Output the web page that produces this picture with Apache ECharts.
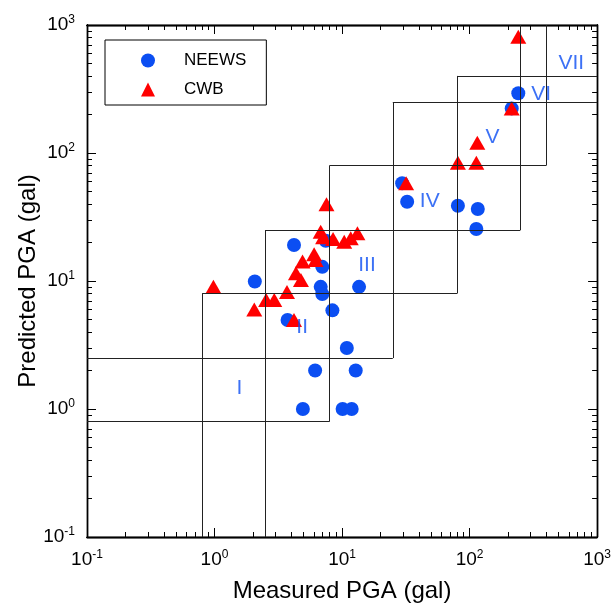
<!DOCTYPE html>
<html>
<head>
<meta charset="utf-8">
<script src="https://cdn.jsdelivr.net/npm/echarts@6/dist/echarts.min.js"></script>
<style>
html,body{margin:0;padding:0;background:#fff;}
#chart{width:614px;height:609px;}
</style>
</head>
<body>
<div id="chart"></div>
<script>
// ---- data ----
const neewsMeasured  = [2.07, 4.2, 7.45, 7.0, 6.8, 7.0, 13.6, 8.4, 3.74, 10.9, 6.15, 12.8, 4.93, 10.1, 11.9, 29.6, 32.4, 81, 116, 113, 214, 241];
const neewsPredicted = [9.9, 19.1, 20.6, 12.9, 9.0, 7.9, 9.0, 5.9, 4.96, 3.0, 2.0, 2.0, 1.0, 1.0, 1.0, 58, 41.6, 38.7, 36.5, 25.5, 223, 293];
const cwbMeasured  = [0.98, 2.05, 2.54, 2.94, 3.7, 4.2, 4.35, 4.76, 4.9, 6.04, 6.2, 6.8, 7.1, 7.55, 8.5, 10.4, 11.7, 13.2, 31.8, 81, 113, 115, 214, 241];
const cwbPredicted = [9.0, 6.0, 7.1, 7.1, 8.2, 4.96, 11.5, 10.2, 14.2, 16.2, 14.6, 24.3, 22, 39.7, 21.3, 20.3, 21.6, 23.6, 58, 84, 84, 120, 223, 811];
const boundaries = [0.8, 2.5, 8, 25, 80, 250, 400];
const levelNames = ['I', 'II', 'III', 'IV', 'V', 'VI', 'VII'];
const levelLabelX = [1.57, 4.87, 15.7, 48.7, 151, 365, 627];
const levelLabelY = [1.46, 4.37, 13.3, 42.2, 133, 290, 505];
const axisMin = 0.1, axisMax = 1000;
const majorExponents = [-1, 0, 1, 2, 3];
const minorMultipliers = [2, 3, 4, 5, 6, 7, 8, 9];

// ---- derived ----
const minorLogs = [];
majorExponents.slice(0, -1).forEach(e => minorMultipliers.forEach(m => minorLogs.push(e + Math.log10(m))));
const ext = j => j < 0 ? axisMin : (j >= boundaries.length ? axisMax : boundaries[j]);
const segs = [];
boundaries.forEach((b, i) => {
  segs.push([{coord: [b, ext(i - 2)]}, {coord: [b, ext(i + 2)]}]);
  segs.push([{coord: [ext(i - 2), b]}, {coord: [ext(i + 2), b]}]);
});
const pair = (xs, ys) => xs.map((x, i) => [x, ys[i]]);

const FONT = 'Liberation Sans, Arial, Helvetica, sans-serif';
const supFmt = v => {
  const e = Math.round(Math.log10(v));
  return '{b|10}{s|' + e + '}';
};
const richLab = {
  b: {fontSize: 19, fontFamily: FONT, color: '#000'},
  s: {fontSize: 12, fontFamily: FONT, color: '#000', padding: [0, 0, 10, 0]}
};
const logAxisBase = (pos, showLabel, name) => ({
  type: 'log', logBase: 10, min: axisMin, max: axisMax, position: pos,
  axisLine: {show: true, onZero: false, lineStyle: {color: '#000', width: 1.3}},
  axisTick: {show: false},
  splitLine: {show: false}, minorTick: {show: false},
  axisLabel: showLabel ? {show: true, formatter: supFmt, rich: richLab, margin: 12} : {show: false},
  name: name || '', nameLocation: 'middle', nameMoveOverlap: false,
  nameTextStyle: {fontSize: 24, fontFamily: FONT, color: '#000'}
});
const tickAxis = (pos, values, len) => ({
  type: 'value', min: -1, max: 3, position: pos,
  axisLine: {show: true, onZero: false, lineStyle: {color: '#000', width: 1.3}}, splitLine: {show: false},
  axisLabel: {show: false},
  axisTick: {show: true, inside: true, length: len, customValues: values, lineStyle: {color: '#000', width: 1}}
});

const xa0 = logAxisBase('bottom', true, 'Measured PGA (gal)'); xa0.nameGap = 42;
const ya0 = logAxisBase('left', true, 'Predicted PGA (gal)'); ya0.nameGap = 47;

const chart = echarts.init(document.getElementById('chart'));
chart.setOption({
  animation: false,
  backgroundColor: '#fff',
  grid: {left: 87, right: 15, top: 25, bottom: 72, containLabel: false},
  xAxis: [xa0, logAxisBase('top', false),
    tickAxis('bottom', minorLogs, 5), tickAxis('top', minorLogs, 5),
    tickAxis('bottom', majorExponents, 9), tickAxis('top', majorExponents, 9)],
  yAxis: [ya0, logAxisBase('right', false),
    tickAxis('left', minorLogs, 5), tickAxis('right', minorLogs, 5),
    tickAxis('left', majorExponents, 9), tickAxis('right', majorExponents, 9)],
  legend: {
    data: ['NEEWS', 'CWB'], orient: 'vertical', left: 105, top: 40,
    padding: [12, 20, 7, 36], itemGap: 12, itemWidth: 14, itemHeight: 14,
    borderColor: '#000', borderWidth: 1, backgroundColor: '#fff',
    textStyle: {fontSize: 17, fontFamily: FONT, color: '#000', padding: [0, 0, 0, 24], lineHeight: 14}
  },
  series: [
    {
      name: 'boxes', type: 'line', data: [], xAxisIndex: 0, yAxisIndex: 0, silent: true,
      markLine: {symbol: 'none', silent: true, animation: false, label: {show: false},
        lineStyle: {color: '#222', width: 1, type: 'solid'}, emphasis: {disabled: true}, data: segs}
    },
    {
      name: 'NEEWS', type: 'scatter', xAxisIndex: 0, yAxisIndex: 0,
      symbol: 'circle', symbolSize: 14, itemStyle: {color: '#0b4ef2', opacity: 1},
      data: pair(neewsMeasured, neewsPredicted)
    },
    {
      name: 'CWB', type: 'scatter', xAxisIndex: 0, yAxisIndex: 0,
      symbol: 'triangle', symbolSize: [16, 14], itemStyle: {color: '#ff0000', opacity: 1},
      data: pair(cwbMeasured, cwbPredicted)
    },
    {
      name: 'levels', type: 'scatter', xAxisIndex: 0, yAxisIndex: 0, silent: true,
      symbol: 'circle', symbolSize: 1, itemStyle: {color: 'rgba(0,0,0,0)'},
      label: {show: true, position: 'inside', formatter: p => p.name, fontSize: 21,
        fontFamily: FONT, color: '#0b4ef2'},
      data: levelNames.map((n, i) => ({name: n, value: [levelLabelX[i], levelLabelY[i]]}))
    }
  ]
});
</script>
</body>
</html>
